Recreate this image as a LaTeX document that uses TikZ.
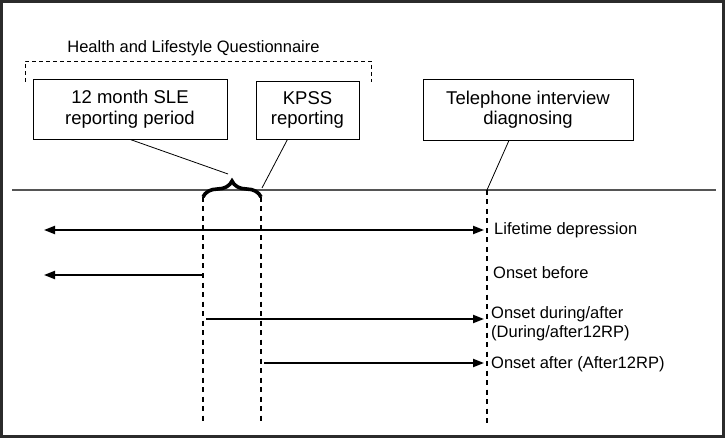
\documentclass[tikz,border=0pt]{standalone}
\usepackage{fontspec}
\setmainfont{Liberation Sans}
\usetikzlibrary{arrows.meta,decorations.pathreplacing}
\definecolor{framegray}{HTML}{2B2B2B}
\definecolor{linegray}{HTML}{555555}
\tikzset{
  box/.style={draw,line width=0.8pt,align=center,inner sep=0pt,
    font=\fontsize{18.5}{20.5}\selectfont},
  lbl/.style={anchor=base west,inner sep=0pt,align=left,
    font=\fontsize{16.5}{19}\selectfont},
  marker/.style={dashed,line width=1.8pt,dash pattern=on 5pt off 4.5pt},
  span/.style={line width=2pt},
  tip/.style={-{Triangle[length=11pt,width=8pt]}},
  pointer/.style={line width=0.8pt}
}
\begin{document}
\begin{tikzpicture}[x=1pt,y=-1pt]
 \useasboundingbox (0,0) rectangle (725,438);
 \draw[framegray,line width=3pt] (1.5,1.5) rectangle (723.5,436.5);
 % questionnaire bracket
 \node[anchor=base,inner sep=0pt,font=\fontsize{16.5}{19}\selectfont] (hlq) at (193.5,53) {Health and Lifestyle Questionnaire};
 \draw[dashed,line width=0.8pt,dash pattern=on 4pt off 3pt] (25,82) -- (25,61) -- (371,61) -- (371,82);
 % boxes
 \node[box,minimum width=194pt,minimum height=60pt] (sle) at (130,109) {12 month SLE\\reporting period};
 \node[box,minimum width=103pt,minimum height=58pt] (kpss) at (307.5,110) {KPSS\\reporting};
 \node[box,minimum width=210pt,minimum height=61pt] (phone) at (528,109.5) {Telephone interview\\diagnosing};
 % time line
 \coordinate (tl) at (12,190);
 \coordinate (tr) at (716,190);
 \draw[linegray,line width=1.3pt] (tl) -- (tr);
 % marks on the time line
 \coordinate (b1) at (203,197);
 \coordinate (b2) at (261,197);
 \coordinate (bt) at (228,174);
 \coordinate (kt) at (262,188);
 \coordinate (pt) at (487,190);
 \draw[decorate,decoration={brace,amplitude=16pt},line width=3.6pt] (b1) -- (b2);
 \draw[pointer] (sle.south) -- (bt);
 \draw[pointer] ([xshift=-20pt]kpss.south) -- (kt);
 \draw[pointer] ([xshift=-19pt]phone.south) -- (pt);
 \coordinate (b1e) at (203,425);
 \coordinate (b2e) at (261,425);
 \coordinate (pte) at (487,425);
 \draw[marker] (b1) -- (b1e);
 \draw[marker] (b2) -- (b2e);
 \draw[marker] (pt) -- (pte);
 % onset arrows
 \coordinate (l1) at (44,230);
 \coordinate (r1) at (484,230);
 \coordinate (l2) at (44,275);
 \coordinate (s2) at (203,275);
 \coordinate (s3) at (206,319);
 \coordinate (r3) at (484,319);
 \coordinate (s4) at (264,363);
 \coordinate (r4) at (484,363);
 \draw[span,{Triangle[length=11pt,width=8pt]}-{Triangle[length=11pt,width=8pt]}] (l1) -- (r1);
 \draw[span,tip] (s2) -- (l2);
 \draw[span,tip] (s3) -- (r3);
 \draw[span,tip] (s4) -- (r4);
 \node[lbl] (life) at (494,235) {Lifetime depression};
 \node[lbl] (before) at (493,278) {Onset before};
 \node[lbl] (during) at (491,337) {Onset during/after\\(During/after12RP)};
 \node[lbl] (after) at (491,368) {Onset after (After12RP)};
\end{tikzpicture}
\end{document}
